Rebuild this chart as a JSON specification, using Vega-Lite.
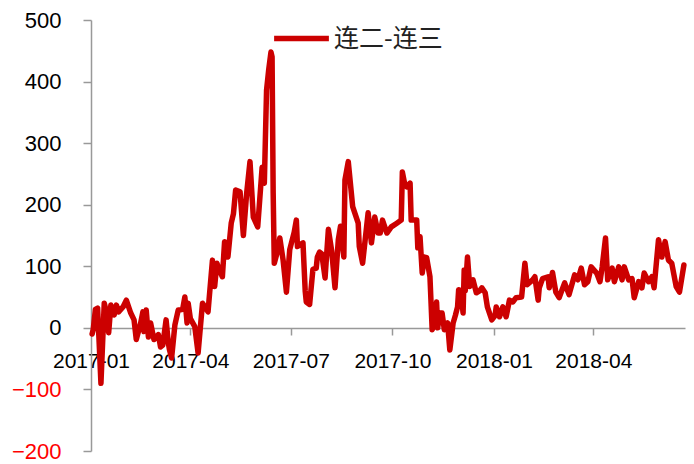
{
  "$schema": "https://vega.github.io/schema/vega-lite/v6.json",
  "width": 594,
  "height": 431,
  "autosize": {"type": "none"},
  "padding": {"left": 91, "top": 20, "right": 9, "bottom": 13},
  "background": "white",
  "config": {"view": {"stroke": null}},
  "data": {"values": [
    {"date": "2017-01-02", "v": -10}, {"date": "2017-01-03", "v": -3}, {"date": "2017-01-05", "v": 30},
    {"date": "2017-01-07", "v": 32}, {"date": "2017-01-10", "v": -90}, {"date": "2017-01-13", "v": 40},
    {"date": "2017-01-15", "v": 26}, {"date": "2017-01-17", "v": -8}, {"date": "2017-01-19", "v": 37},
    {"date": "2017-01-22", "v": 21}, {"date": "2017-01-24", "v": 37}, {"date": "2017-01-26", "v": 26},
    {"date": "2017-01-30", "v": 34}, {"date": "2017-02-02", "v": 45}, {"date": "2017-02-06", "v": 24},
    {"date": "2017-02-09", "v": 13}, {"date": "2017-02-11", "v": -19}, {"date": "2017-02-15", "v": 8},
    {"date": "2017-02-17", "v": 26}, {"date": "2017-02-18", "v": -6}, {"date": "2017-02-20", "v": 29},
    {"date": "2017-02-22", "v": -15}, {"date": "2017-02-24", "v": 8}, {"date": "2017-02-27", "v": -19},
    {"date": "2017-03-03", "v": -11}, {"date": "2017-03-05", "v": -31}, {"date": "2017-03-07", "v": -28},
    {"date": "2017-03-10", "v": 13}, {"date": "2017-03-12", "v": -24}, {"date": "2017-03-13", "v": -35},
    {"date": "2017-03-15", "v": -49}, {"date": "2017-03-18", "v": 5}, {"date": "2017-03-21", "v": 29},
    {"date": "2017-03-22", "v": 29}, {"date": "2017-03-25", "v": 30}, {"date": "2017-03-27", "v": 50},
    {"date": "2017-03-29", "v": 8}, {"date": "2017-03-30", "v": 40}, {"date": "2017-04-01", "v": 15},
    {"date": "2017-04-05", "v": 2}, {"date": "2017-04-08", "v": -41}, {"date": "2017-04-11", "v": 20},
    {"date": "2017-04-12", "v": 40}, {"date": "2017-04-17", "v": 26}, {"date": "2017-04-21", "v": 110},
    {"date": "2017-04-23", "v": 67}, {"date": "2017-04-25", "v": 105}, {"date": "2017-04-27", "v": 95},
    {"date": "2017-04-30", "v": 83}, {"date": "2017-05-02", "v": 140}, {"date": "2017-05-05", "v": 115},
    {"date": "2017-05-08", "v": 170}, {"date": "2017-05-10", "v": 185}, {"date": "2017-05-12", "v": 224},
    {"date": "2017-05-16", "v": 221}, {"date": "2017-05-19", "v": 150}, {"date": "2017-05-22", "v": 219},
    {"date": "2017-05-25", "v": 270}, {"date": "2017-05-28", "v": 180}, {"date": "2017-06-01", "v": 164},
    {"date": "2017-06-05", "v": 261}, {"date": "2017-06-07", "v": 235}, {"date": "2017-06-09", "v": 386},
    {"date": "2017-06-11", "v": 420}, {"date": "2017-06-13", "v": 448}, {"date": "2017-06-14", "v": 440},
    {"date": "2017-06-15", "v": 219}, {"date": "2017-06-16", "v": 105}, {"date": "2017-06-19", "v": 125},
    {"date": "2017-06-21", "v": 146}, {"date": "2017-06-24", "v": 110}, {"date": "2017-06-27", "v": 58},
    {"date": "2017-06-30", "v": 127}, {"date": "2017-07-04", "v": 155}, {"date": "2017-07-06", "v": 175},
    {"date": "2017-07-07", "v": 132}, {"date": "2017-07-12", "v": 138}, {"date": "2017-07-14", "v": 60},
    {"date": "2017-07-15", "v": 42}, {"date": "2017-07-18", "v": 38}, {"date": "2017-07-21", "v": 95},
    {"date": "2017-07-24", "v": 97}, {"date": "2017-07-25", "v": 115}, {"date": "2017-07-27", "v": 123},
    {"date": "2017-07-29", "v": 120}, {"date": "2017-08-01", "v": 81}, {"date": "2017-08-04", "v": 160},
    {"date": "2017-08-07", "v": 125}, {"date": "2017-08-10", "v": 65}, {"date": "2017-08-13", "v": 143},
    {"date": "2017-08-15", "v": 165}, {"date": "2017-08-18", "v": 115}, {"date": "2017-08-19", "v": 240},
    {"date": "2017-08-22", "v": 270}, {"date": "2017-08-26", "v": 197}, {"date": "2017-08-31", "v": 170},
    {"date": "2017-09-01", "v": 132}, {"date": "2017-09-04", "v": 105}, {"date": "2017-09-09", "v": 187},
    {"date": "2017-09-12", "v": 138}, {"date": "2017-09-15", "v": 180}, {"date": "2017-09-18", "v": 154},
    {"date": "2017-09-20", "v": 154}, {"date": "2017-09-22", "v": 175}, {"date": "2017-09-26", "v": 154},
    {"date": "2017-09-30", "v": 164}, {"date": "2017-10-05", "v": 170}, {"date": "2017-10-09", "v": 175},
    {"date": "2017-10-10", "v": 253}, {"date": "2017-10-12", "v": 235}, {"date": "2017-10-14", "v": 229},
    {"date": "2017-10-17", "v": 235}, {"date": "2017-10-18", "v": 175}, {"date": "2017-10-23", "v": 175},
    {"date": "2017-10-24", "v": 130}, {"date": "2017-10-26", "v": 148}, {"date": "2017-10-28", "v": 89},
    {"date": "2017-10-30", "v": 115}, {"date": "2017-11-01", "v": 114}, {"date": "2017-11-04", "v": 83},
    {"date": "2017-11-06", "v": -3}, {"date": "2017-11-08", "v": 5}, {"date": "2017-11-10", "v": 42},
    {"date": "2017-11-11", "v": 0}, {"date": "2017-11-13", "v": 24}, {"date": "2017-11-15", "v": 24},
    {"date": "2017-11-17", "v": -3}, {"date": "2017-11-20", "v": 8}, {"date": "2017-11-22", "v": -36},
    {"date": "2017-11-25", "v": 8}, {"date": "2017-11-27", "v": 20}, {"date": "2017-11-29", "v": 34},
    {"date": "2017-11-30", "v": 62}, {"date": "2017-12-02", "v": 60}, {"date": "2017-12-04", "v": 24},
    {"date": "2017-12-05", "v": 94}, {"date": "2017-12-06", "v": 60}, {"date": "2017-12-08", "v": 115},
    {"date": "2017-12-10", "v": 67}, {"date": "2017-12-13", "v": 78}, {"date": "2017-12-16", "v": 57},
    {"date": "2017-12-19", "v": 60}, {"date": "2017-12-21", "v": 65}, {"date": "2017-12-24", "v": 57},
    {"date": "2017-12-26", "v": 34}, {"date": "2017-12-30", "v": 13}, {"date": "2018-01-02", "v": 20},
    {"date": "2018-01-03", "v": 34}, {"date": "2018-01-06", "v": 18}, {"date": "2018-01-09", "v": 34},
    {"date": "2018-01-12", "v": 18}, {"date": "2018-01-15", "v": 45}, {"date": "2018-01-18", "v": 42},
    {"date": "2018-01-21", "v": 49}, {"date": "2018-01-26", "v": 50}, {"date": "2018-01-29", "v": 105},
    {"date": "2018-01-31", "v": 70}, {"date": "2018-02-05", "v": 78}, {"date": "2018-02-07", "v": 83},
    {"date": "2018-02-10", "v": 45}, {"date": "2018-02-11", "v": 65}, {"date": "2018-02-14", "v": 80},
    {"date": "2018-02-19", "v": 83}, {"date": "2018-02-20", "v": 65}, {"date": "2018-02-23", "v": 90},
    {"date": "2018-02-26", "v": 58}, {"date": "2018-03-01", "v": 49}, {"date": "2018-03-06", "v": 73},
    {"date": "2018-03-10", "v": 54}, {"date": "2018-03-15", "v": 86}, {"date": "2018-03-18", "v": 78},
    {"date": "2018-03-21", "v": 97}, {"date": "2018-03-24", "v": 70}, {"date": "2018-03-27", "v": 75},
    {"date": "2018-03-30", "v": 99}, {"date": "2018-04-04", "v": 89}, {"date": "2018-04-07", "v": 75},
    {"date": "2018-04-09", "v": 99}, {"date": "2018-04-12", "v": 146}, {"date": "2018-04-14", "v": 78},
    {"date": "2018-04-18", "v": 97}, {"date": "2018-04-20", "v": 75}, {"date": "2018-04-24", "v": 99},
    {"date": "2018-04-27", "v": 78}, {"date": "2018-04-29", "v": 99}, {"date": "2018-05-03", "v": 78},
    {"date": "2018-05-06", "v": 80}, {"date": "2018-05-08", "v": 49}, {"date": "2018-05-12", "v": 75},
    {"date": "2018-05-15", "v": 65}, {"date": "2018-05-17", "v": 89}, {"date": "2018-05-21", "v": 75},
    {"date": "2018-05-24", "v": 83}, {"date": "2018-05-26", "v": 65}, {"date": "2018-05-30", "v": 143},
    {"date": "2018-06-02", "v": 115}, {"date": "2018-06-05", "v": 140}, {"date": "2018-06-08", "v": 110},
    {"date": "2018-06-11", "v": 105}, {"date": "2018-06-15", "v": 67}, {"date": "2018-06-18", "v": 58},
    {"date": "2018-06-22", "v": 102}
  ]},
  "mark": {"type": "line", "strokeWidth": 5.5, "strokeJoin": "round", "strokeCap": "round", "clip": false},
  "encoding": {
    "x": {
      "field": "date", "type": "temporal", "title": null,
      "scale": {"type": "utc", "domain": [{"year": 2017, "month": 1, "date": 1, "utc": true}, {"year": 2018, "month": 6, "date": 23, "utc": true}], "nice": false},
      "axis": {
        "offset": -123,
        "values": [
          {"year": 2017, "month": 1, "date": 1, "utc": true},
          {"year": 2017, "month": 4, "date": 1, "utc": true},
          {"year": 2017, "month": 7, "date": 1, "utc": true},
          {"year": 2017, "month": 10, "date": 1, "utc": true},
          {"year": 2018, "month": 1, "date": 1, "utc": true},
          {"year": 2018, "month": 4, "date": 1, "utc": true}
        ],
        "labelExpr": "utcFormat(datum.value, '%Y-%m')",
        "grid": false, "domainColor": "#999999", "domainWidth": 1.5,
        "tickColor": "#999999", "tickWidth": 1.5, "tickSize": 7,
        "labelFont": "Liberation Sans", "labelFontSize": 21, "labelColor": "#000000",
        "labelPadding": 15, "labelOverlap": false, "labelFlush": false
      }
    },
    "y": {
      "field": "v", "type": "quantitative", "title": null,
      "scale": {"domain": [-200, 500], "nice": false, "zero": false},
      "axis": {
        "values": [-200, -100, 0, 100, 200, 300, 400, 500],
        "grid": false, "domainColor": "#999999", "domainWidth": 1.5,
        "tickColor": "#999999", "tickWidth": 1.5, "tickSize": 8,
        "labelFont": "Liberation Sans", "labelFontSize": 22,
        "labelColor": {"condition": {"test": "datum.value < 0", "value": "#FF0000"}, "value": "#000000"},
        "labelPadding": 22
      }
    },
    "color": {
      "datum": "连二-连三", "type": "nominal",
      "scale": {"range": ["#CC0000"]},
      "legend": {
        "title": null, "orient": "none", "legendX": 180, "legendY": -12,
        "symbolType": "stroke", "symbolStrokeWidth": 5.5, "symbolSize": 3000,
        "labelFont": "Noto Sans CJK SC", "labelFontSize": 25, "labelFontWeight": "normal", "labelColor": "#222222",
        "labelOffset": 2, "padding": 0
      }
    }
  }
}
